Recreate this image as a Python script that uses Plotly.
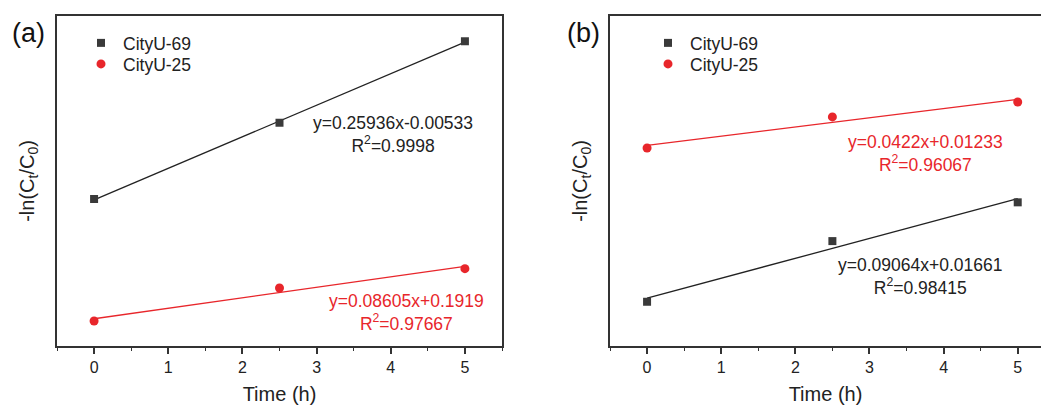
import numpy as np
import plotly.graph_objects as go

# ---- data (y in arbitrary units) ----
time_h = [0, 2.5, 5]
a_cityu69 = [1.207, 1.833, 2.502]
a_cityu25 = [0.205, 0.476, 0.635]
b_cityu69 = [0.202, 0.479, 0.656]
b_cityu25 = [0.904, 1.046, 1.114]
series_names = ["CityU-69", "CityU-25"]
a_eq = ["y=0.25936x-0.00533<br>R<sup>2</sup>=0.9998", "y=0.08605x+0.1919<br>R<sup>2</sup>=0.97667"]
b_eq = ["y=0.0422x+0.01233<br>R<sup>2</sup>=0.96067", "y=0.09064x+0.01661<br>R<sup>2</sup>=0.98415"]
x_ticks = [0, 1, 2, 3, 4, 5]

W, H = 1041, 405
FONT = "Liberation Sans, Arial, sans-serif"
DARK = "#3a3a3a"
RED = "#e8262b"
LINE_K = "#222222"
FRAME = "#333333"

fig = go.Figure()


def add_panel(fig, xs, ys69, ys25, xa, ya, legends):
    for ys, name, sym, col, lcol, size, lg in [
        (ys69, series_names[0], "square", DARK, LINE_K, 8, legends[0]),
        (ys25, series_names[1], "circle", RED, RED, 9, legends[1]),
    ]:
        k, b = np.polyfit(xs, ys, 1)
        fx = np.array([min(xs), max(xs)])
        fig.add_trace(go.Scatter(x=fx, y=k * fx + b, mode="lines",
                                 line=dict(color=lcol, width=1.3),
                                 xaxis=xa, yaxis=ya, showlegend=False,
                                 hoverinfo="skip"))
        fig.add_trace(go.Scatter(x=xs, y=ys, mode="markers", name=name,
                                 marker=dict(symbol=sym, size=size, color=col),
                                 xaxis=xa, yaxis=ya, legend=lg))


add_panel(fig, time_h, a_cityu69, a_cityu25, "x", "y", ["legend", "legend2"])
add_panel(fig, time_h, b_cityu69, b_cityu25, "x2", "y2", ["legend3", "legend4"])

ydom = [1 - 346 / H, 1 - 16 / H]

xcommon = dict(
    tickvals=x_ticks, ticks="outside", ticklen=6, tickwidth=1.5, tickcolor=FRAME,
    minor=dict(dtick=0.5, ticks="outside", ticklen=3, tickwidth=1.2, tickcolor=FRAME),
    showline=True, linecolor=FRAME, linewidth=1.6, mirror=True,
    showgrid=False, zeroline=False,
    tickfont=dict(family=FONT, size=16, color="#222"),
    title=dict(text="Time (h)", font=dict(family=FONT, size=20, color="#222"), standoff=14),
)
ycommon = dict(
    showticklabels=False, ticks="", showgrid=False, zeroline=False,
    showline=True, linecolor=FRAME, linewidth=1.6,
    title=dict(text="-ln(C<sub>t</sub>/C<sub>0</sub>)",
               font=dict(family=FONT, size=20, color="#222"), standoff=15),
)


def leg(px, py):
    return dict(x=(px - 19) / W, y=1 - (py - 17) / H, xanchor="left", yanchor="top",
                bgcolor="rgba(0,0,0,0)", font=dict(family=FONT, size=17.5, color="#222"),
                itemwidth=34)


fig.update_layout(
    width=W, height=H, margin=dict(l=0, r=0, t=0, b=0),
    paper_bgcolor="white", plot_bgcolor="white",
    font=dict(family=FONT, color="#222"),
    xaxis=dict(domain=[57 / W, 502 / W], range=[-0.5, 5.5], anchor="y", **xcommon),
    yaxis=dict(domain=ydom, range=[0, 330 / 121.8], anchor="x", mirror=True, **ycommon),
    xaxis2=dict(domain=[610 / W, 1.0], range=[-0.5, 5.314], anchor="y2", **xcommon),
    yaxis2=dict(domain=ydom, range=[0, 330 / 219.0], anchor="x2", mirror=False, **ycommon),
    legend=leg(98, 42),
    legend2=leg(98, 63),
    legend3=leg(665, 42),
    legend4=leg(665, 63),
    showlegend=True,
)

ann = [
    ("(a)", 28, 33, 27, "#111"),
    ("(b)", 583, 33, 27, "#111"),
    (a_eq[0], 393, 135, 17.5, "#222"),
    (a_eq[1], 406, 312, 17.5, RED),
    (b_eq[0], 925, 154, 17.5, RED),
    (b_eq[1], 920, 276, 17.5, "#222"),
]
for text, px, py, fs, col in ann:
    fig.add_annotation(text=text, x=px / W, y=1 - py / H, xref="paper", yref="paper",
                       xanchor="center", yanchor="middle", showarrow=False, align="center",
                       font=dict(family=FONT, size=fs, color=col))

fig.write_html("out.html")
